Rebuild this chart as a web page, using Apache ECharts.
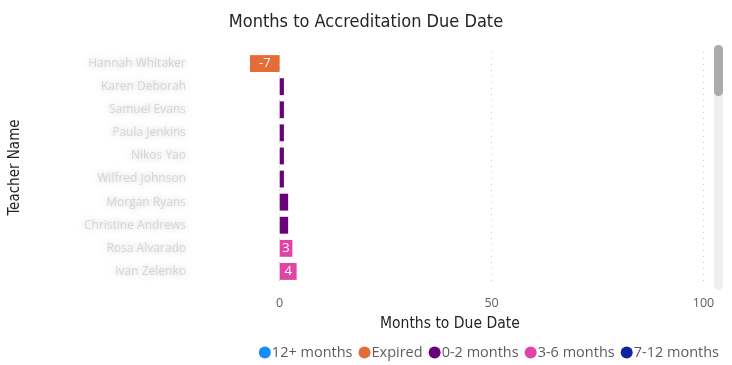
<!DOCTYPE html>
<html><head><meta charset="utf-8">
<script src="https://cdn.jsdelivr.net/npm/echarts@6/dist/echarts.min.js"></script>
<style>html,body{margin:0;padding:0;background:#fff}#c{width:732px;height:365px}</style>
</head><body><div id="c"></div>
<script>
const teachers = ["Hannah Whitaker","Karen Deborah","Samuel Evans","Paula Jenkins","Nikos Yao","Wilfred Johnson","Morgan Ryans","Christine Andrews","Rosa Alvarado","Ivan Zelenko"];
const months = [-7, 1, 1, 1, 1, 1, 2, 2, 3, 4];
const bucket = ["Expired","0-2 months","0-2 months","0-2 months","0-2 months","0-2 months","0-2 months","0-2 months","3-6 months","3-6 months"];
const legendNames = ["12+ months","Expired","0-2 months","3-6 months","7-12 months"];
const legendColors = ["#118DFF","#E66C37","#6B007B","#E044A7","#12239E"];
const tickValues = [0, 50, 100];

const series = legendNames.map((n, i) => ({
  name: n, type: 'bar', stack: 'a', barCategoryGap: '27%',
  itemStyle: {color: legendColors[i]},
  label: {show: true, position: 'inside', color: '#fff', fontSize: 13, fontFamily: 'Open Sans',
    formatter: p => Math.abs(p.value) >= 3 ? String(p.value) : ''},
  data: months.map((v, j) => bucket[j] === n ? v : null)
}));
series[0].markLine = {symbol: 'none', silent: true, label: {show: false},
  lineStyle: {color: '#c8c8c8', type: [1, 5], width: 1},
  data: tickValues.map(v => ({xAxis: v}))};

const chart = echarts.init(document.getElementById('c'));
chart.setOption({
  animation: false,
  title: {text: 'Months to Accreditation Due Date', left: 'center', top: 8,
    textStyle: {fontFamily: 'DejaVu Sans Condensed, Roboto', fontWeight: 'normal', fontSize: 18, color: '#252423'}},
  legend: {data: legendNames, right: 8, top: 340, icon: 'circle', itemWidth: 12, itemHeight: 12, itemGap: 6,
    textStyle: {fontFamily: 'Open Sans', fontSize: 14.5, color: '#605E5C', padding: [0,0,0,-4]}},
  grid: {left: 250, right: 20, top: 52, bottom: 82, containLabel: false},
  xAxis: {type: 'value', min: -7, max: 102,
    axisLine: {show: false}, axisTick: {show: false}, splitLine: {show: false},
    axisLabel: {customValues: tickValues, color: '#605E5C', fontFamily: 'Open Sans', fontSize: 12.5, margin: 14}},
  yAxis: {type: 'category', inverse: true, data: teachers,
    name: 'Teacher Name', nameLocation: 'middle', nameGap: 227, nameRotate: 90,
    nameTextStyle: {fontFamily: 'DejaVu Sans Condensed, Roboto', fontSize: 15, color: '#252423'},
    axisLine: {show: false}, axisTick: {show: false},
    axisLabel: {margin: 64, fontFamily: 'Open Sans', fontSize: 12, color: 'rgba(175,175,188,0.45)',
      textShadowColor: 'rgba(130,130,145,0.95)', textShadowBlur: 6}},
  graphic: [
    {type: 'text', left: 380, top: 316, style: {text: 'Months to Due Date', fontFamily: 'DejaVu Sans Condensed, Roboto', fontSize: 15.5, fill: '#252423'}},
    {type: 'rect', shape: {x: 714, y: 45, width: 9, height: 245, r: 4.5}, style: {fill: '#efefef'}},
    {type: 'rect', shape: {x: 714, y: 45, width: 9, height: 51, r: 4.5}, style: {fill: '#ababab'}}
  ],
  series: series
});
</script></body></html>
